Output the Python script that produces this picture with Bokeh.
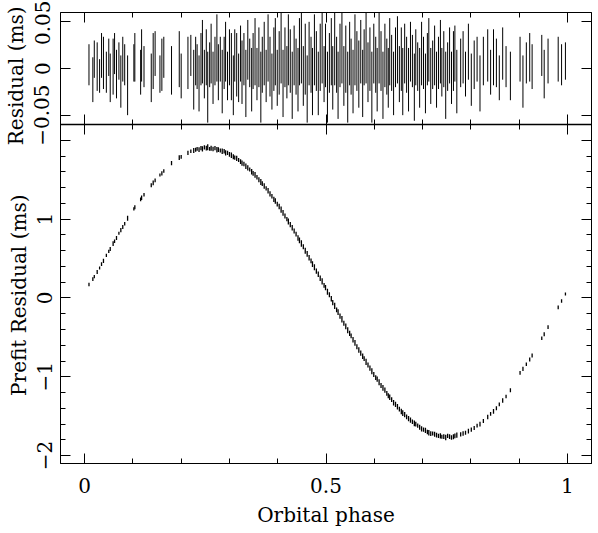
import numpy as np
from bokeh.plotting import figure
from bokeh.models import LinearAxis, SingleIntervalTicker, CustomJSTickFormatter, Range1d, ColumnDataSource, Span
from bokeh.embed import file_html
from bokeh.resources import INLINE

# Orbital phase of each TOA
phase = [
    0.009, 0.017, 0.020, 0.026, 0.031, 0.035, 0.039, 0.045, 0.050, 0.053,
    0.059, 0.062, 0.066, 0.071, 0.075, 0.079, 0.083, 0.089, 0.102, 0.104,
    0.116, 0.118, 0.123, 0.138, 0.142, 0.146, 0.156, 0.160, 0.164, 0.180,
    0.196, 0.200, 0.214, 0.220, 0.226, 0.230, 0.233, 0.237, 0.241, 0.244,
    0.248, 0.252, 0.255, 0.259, 0.262, 0.266, 0.270, 0.274, 0.277, 0.281,
    0.285, 0.289, 0.292, 0.296, 0.300, 0.304, 0.308, 0.311, 0.315, 0.319,
    0.323, 0.326, 0.330, 0.334, 0.338, 0.342, 0.346, 0.349, 0.353, 0.357,
    0.361, 0.365, 0.368, 0.372, 0.376, 0.380, 0.384, 0.388, 0.392, 0.395,
    0.399, 0.403, 0.407, 0.411, 0.415, 0.419, 0.422, 0.426, 0.430, 0.434,
    0.438, 0.442, 0.445, 0.449, 0.453, 0.457, 0.461, 0.465, 0.469, 0.472,
    0.476, 0.480, 0.484, 0.488, 0.492, 0.496, 0.499, 0.503, 0.507, 0.511,
    0.514, 0.518, 0.522, 0.525, 0.529, 0.533, 0.537, 0.541, 0.545, 0.549,
    0.552, 0.556, 0.560, 0.564, 0.568, 0.572, 0.576, 0.579, 0.583, 0.587,
    0.591, 0.595, 0.599, 0.603, 0.606, 0.610, 0.614, 0.618, 0.622, 0.626,
    0.629, 0.632, 0.636, 0.640, 0.644, 0.648, 0.652, 0.656, 0.659, 0.663,
    0.667, 0.671, 0.675, 0.679, 0.683, 0.686, 0.690, 0.694, 0.698, 0.702,
    0.706, 0.710, 0.713, 0.717, 0.721, 0.725, 0.729, 0.733, 0.737, 0.740,
    0.744, 0.748, 0.752, 0.756, 0.760, 0.764, 0.767, 0.771, 0.779, 0.784,
    0.789, 0.795, 0.801, 0.807, 0.813, 0.819, 0.826, 0.835, 0.841, 0.847,
    0.853, 0.859, 0.866, 0.873, 0.882, 0.902, 0.908, 0.915, 0.922, 0.927,
    0.947, 0.952, 0.960, 0.981, 0.988, 0.996,
]

# Prefit residuals (ms)
prefit = [
    0.17, 0.24, 0.27, 0.33, 0.38, 0.43, 0.47, 0.54, 0.59, 0.62,
    0.69, 0.72, 0.76, 0.82, 0.86, 0.90, 0.94, 1.01, 1.13, 1.15,
    1.25, 1.27, 1.31, 1.43, 1.46, 1.49, 1.56, 1.58, 1.61, 1.71,
    1.78, 1.79, 1.84, 1.86, 1.87, 1.88, 1.89, 1.88, 1.90, 1.89,
    1.91, 1.90, 1.91, 1.89, 1.90, 1.89, 1.90, 1.88, 1.88, 1.87,
    1.86, 1.86, 1.84, 1.84, 1.82, 1.81, 1.79, 1.78, 1.77, 1.75,
    1.73, 1.71, 1.70, 1.67, 1.65, 1.63, 1.60, 1.58, 1.56, 1.53,
    1.50, 1.47, 1.45, 1.42, 1.39, 1.36, 1.32, 1.29, 1.25, 1.23,
    1.19, 1.16, 1.12, 1.08, 1.04, 1.00, 0.97, 0.93, 0.89, 0.85,
    0.81, 0.76, 0.73, 0.69, 0.65, 0.60, 0.56, 0.51, 0.47, 0.43,
    0.39, 0.34, 0.30, 0.25, 0.21, 0.16, 0.13, 0.08, 0.04, -0.01,
    -0.06, -0.10, -0.15, -0.18, -0.23, -0.27, -0.32, -0.36, -0.41, -0.45,
    -0.48, -0.53, -0.57, -0.62, -0.66, -0.70, -0.74, -0.77, -0.81, -0.85,
    -0.89, -0.93, -0.97, -1.01, -1.03, -1.07, -1.11, -1.14, -1.17, -1.21,
    -1.24, -1.26, -1.29, -1.33, -1.35, -1.38, -1.41, -1.44, -1.46, -1.48,
    -1.51, -1.53, -1.55, -1.57, -1.59, -1.60, -1.62, -1.64, -1.66, -1.67,
    -1.68, -1.70, -1.71, -1.72, -1.72, -1.73, -1.74, -1.75, -1.75, -1.76,
    -1.76, -1.77, -1.75, -1.76, -1.77, -1.76, -1.75, -1.74, -1.73, -1.72,
    -1.71, -1.69, -1.67, -1.65, -1.62, -1.60, -1.56, -1.51, -1.47, -1.44,
    -1.40, -1.35, -1.30, -1.25, -1.17, -0.95, -0.90, -0.84, -0.78, -0.73,
    -0.51, -0.46, -0.37, -0.12, -0.04, 0.05,
]

# Postfit residuals (ms)
postfit = [
    0.004, -0.012, 0.010, 0.002, -0.008, 0.014, 0.006, -0.004, 0.012, -0.010,
    0.002, 0.016, -0.006, 0.008, -0.014, 0.010, 0.004, -0.018, 0.006, 0.012,
    -0.004, 0.014, 0.002, -0.010, 0.008, 0.016, -0.006, 0.004, 0.012, -0.002,
    0.010, -0.008, 0.006, 0.014, -0.012, 0.008, 0.002, -0.016, 0.010, 0.018,
    -0.006, 0.012, -0.020, 0.004, 0.016, -0.010, 0.008, 0.022, -0.004, 0.010,
    -0.014, 0.006, 0.018, -0.008, 0.012, 0.002, -0.018, 0.014, 0.004, -0.010,
    0.016, -0.004, 0.010, -0.016, 0.020, 0.006, -0.012, 0.008, 0.018, -0.006,
    0.012, -0.020, 0.004, 0.016, -0.008, 0.022, 0.002, -0.014, 0.010, 0.018,
    -0.010, 0.006, 0.024, -0.016, 0.012, -0.004, 0.020, 0.008, -0.018, 0.014,
    0.002, -0.012, 0.018, 0.026, -0.008, 0.010, -0.022, 0.016, 0.004, -0.014,
    0.020, 0.008, -0.016, 0.012, 0.024, -0.006, 0.014, -0.020, 0.006, 0.018,
    -0.010, 0.022, 0.004, -0.018, 0.014, 0.026, -0.008, 0.010, -0.020, 0.016,
    0.002, -0.014, 0.020, 0.008, -0.006, 0.018, -0.016, 0.012, 0.024, -0.004,
    0.010, -0.020, 0.016, 0.004, -0.012, 0.022, 0.008, -0.018, 0.014, 0.002,
    -0.010, 0.018, 0.006, -0.016, 0.012, 0.020, -0.006, 0.010, -0.014, 0.016,
    0.004, -0.012, 0.018, 0.008, -0.020, 0.012, 0.002, -0.010, 0.016, 0.006,
    -0.016, 0.010, 0.020, -0.008, 0.004, 0.014, -0.012, 0.006, 0.018, -0.004,
    0.010, -0.018, 0.002, 0.014, -0.010, 0.008, 0.016, -0.014, 0.006, 0.012,
    -0.006, 0.018, -0.012, 0.004, 0.010, -0.016, 0.008, 0.014, -0.004, 0.012,
    0.006, -0.010, 0.016, 0.002, -0.008, 0.010, -0.014, 0.006, 0.012, 0.002,
    0.014, -0.006, 0.008, 0.010, 0.004, 0.008,
]

# TOA uncertainties (ms)
error = [
    0.022, 0.024, 0.020, 0.026, 0.018, 0.024, 0.028, 0.022, 0.020, 0.026,
    0.030, 0.022, 0.026, 0.020, 0.028, 0.024, 0.022, 0.032, 0.020, 0.026,
    0.024, 0.028, 0.022, 0.026, 0.030, 0.024, 0.020, 0.028, 0.022, 0.026,
    0.030, 0.024, 0.028, 0.022, 0.032, 0.026, 0.024, 0.030, 0.028, 0.034,
    0.026, 0.030, 0.038, 0.024, 0.032, 0.028, 0.026, 0.036, 0.030, 0.024,
    0.034, 0.028, 0.032, 0.026, 0.030, 0.036, 0.032, 0.028, 0.034, 0.026,
    0.030, 0.034, 0.028, 0.036, 0.032, 0.026, 0.034, 0.030, 0.036, 0.028,
    0.032, 0.038, 0.030, 0.034, 0.028, 0.036, 0.032, 0.030, 0.034, 0.036,
    0.030, 0.034, 0.040, 0.036, 0.032, 0.028, 0.038, 0.034, 0.036, 0.032,
    0.030, 0.034, 0.036, 0.042, 0.032, 0.038, 0.036, 0.034, 0.030, 0.036,
    0.038, 0.032, 0.034, 0.036, 0.040, 0.030, 0.034, 0.038, 0.032, 0.036,
    0.034, 0.040, 0.030, 0.036, 0.034, 0.042, 0.032, 0.036, 0.038, 0.034,
    0.030, 0.034, 0.038, 0.032, 0.036, 0.034, 0.036, 0.030, 0.040, 0.032,
    0.034, 0.038, 0.032, 0.030, 0.034, 0.038, 0.032, 0.036, 0.034, 0.030,
    0.032, 0.036, 0.030, 0.034, 0.032, 0.036, 0.030, 0.034, 0.036, 0.032,
    0.030, 0.034, 0.032, 0.028, 0.036, 0.030, 0.026, 0.032, 0.034, 0.028,
    0.032, 0.028, 0.034, 0.030, 0.026, 0.032, 0.030, 0.028, 0.034, 0.026,
    0.030, 0.036, 0.026, 0.030, 0.028, 0.032, 0.030, 0.034, 0.026, 0.028,
    0.024, 0.030, 0.028, 0.026, 0.024, 0.030, 0.026, 0.028, 0.024, 0.030,
    0.026, 0.024, 0.028, 0.022, 0.026, 0.024, 0.028, 0.022, 0.026, 0.024,
    0.022, 0.026, 0.024, 0.024, 0.022, 0.020,
]

x_label = "Orbital phase"
top_label = "Residual (ms)"
bottom_label = "Prefit Residual (ms)"

FONT = "DejaVu Serif"
FS = "20px"
TEXT_H = 21                     # estimated text box height of FS (px)
NBSP = "\u00a0"

# panel geometry (pixels) and axis limits
TOP_PX, BOT_PX = 112, 339
X0, X1 = -0.05, 1.05
Y_LO, Y_HI = -2.1, 2.2          # prefit panel
R_LO, R_HI = -0.06, 0.06        # residual panel
main_end = Y_HI + (Y_HI - Y_LO) * TOP_PX / BOT_PX
res_start = R_LO - (R_HI - R_LO) * BOT_PX / TOP_PX

ph = np.array(phase)
pre = np.array(prefit)
post = np.array(postfit)
err = np.array(error)
src = ColumnDataSource(dict(
    phase=ph,
    post_lo=post - err, post_hi=post + err,
    pre_lo=pre - err, pre_hi=pre + err,
))

def make_fmt(hide_above=None):
    lim = "null" if hide_above is None else str(hide_above)
    return CustomJSTickFormatter(code="""
        const lim = %s;
        if (lim !== null && tick > lim) return '';
        if (Math.abs(tick) < 1e-9) return '0';
        const s = String(+tick.toFixed(3));
        return s.replace('-', '\u2212');
    """ % lim)

def blank_fmt():
    return CustomJSTickFormatter(code="return '';")

def style_axis(ax, labels, hide_above=None):
    ax.axis_line_color = "black"
    ax.axis_line_width = 1
    ax.major_tick_in = 10
    ax.major_tick_out = 0
    ax.minor_tick_in = 5
    ax.minor_tick_out = 0
    ax.major_tick_line_color = "black"
    ax.minor_tick_line_color = "black"
    if labels:
        ax.formatter = make_fmt(hide_above)
        ax.major_label_text_font = FONT
        ax.major_label_text_font_size = FS
        ax.major_label_text_color = "black"
        ax.axis_label_text_font = FONT
        ax.axis_label_text_font_size = FS
        ax.axis_label_text_font_style = "normal"
        ax.axis_label_text_color = "black"
    else:
        ax.formatter = blank_fmt()
        ax.major_label_text_font_size = "1px"
        ax.major_label_standoff = 0
        ax.axis_label = None

def x_ticker():
    return SingleIntervalTicker(interval=0.5, num_minor_ticks=5)

def y_ticker():
    return SingleIntervalTicker(interval=1, num_minor_ticks=5)

def r_ticker():
    return SingleIntervalTicker(interval=0.05, num_minor_ticks=0)

p = figure(width=598, height=533, x_range=Range1d(X0, X1), y_range=Range1d(Y_LO, main_end),
           output_backend="svg", toolbar_location=None,
           min_border_left=59, min_border_right=7, min_border_top=12, min_border_bottom=70)
p.extra_y_ranges = {"res": Range1d(res_start, R_HI)}

# top panel: postfit residuals with error bars
p.segment(x0="phase", y0="post_lo", x1="phase", y1="post_hi", source=src,
          y_range_name="res", line_color="black", line_width=1)
# bottom panel: prefit residuals with error bars
p.segment(x0="phase", y0="pre_lo", x1="phase", y1="pre_hi", source=src,
          line_color="black", line_width=1.3)

# panel divider
p.add_layout(Span(location=Y_HI, dimension="width", line_color="black", line_width=1.5))

# bottom x axis with labels
bx = p.xaxis[0]
bx.ticker = x_ticker()
style_axis(bx, True)
bx.major_label_standoff = 14
bx.axis_label = x_label
bx.axis_label_standoff = 7

# left axis of prefit panel (next to the frame); label centred on its own panel
TICK_SO, LABEL_SO = 8, 4
ly = p.yaxis[0]
ly.ticker = y_ticker()
ly.bounds = (Y_LO, Y_HI)
style_axis(ly, True, hide_above=1.5)
ly.major_label_orientation = "vertical"
ly.major_label_standoff = TICK_SO
ly.axis_label = bottom_label + NBSP * 18
ly.axis_label_standoff = LABEL_SO

# labels of the residual panel: a second left axis pulled back over the first one
lb = LinearAxis(y_range_name="res", ticker=r_ticker(), bounds=(R_LO, R_HI))
style_axis(lb, True)
lb.major_tick_in = 0
lb.minor_tick_in = 0
lb.axis_line_color = None
lb.major_tick_line_color = None
lb.minor_tick_line_color = None
lb.major_label_orientation = "vertical"
lb.major_label_standoff = -(LABEL_SO + 2 * TEXT_H)
lb.axis_label = NBSP * 51 + top_label
lb.axis_label_standoff = LABEL_SO
p.add_layout(lb, "left")

# tick marks of the residual panel on the frame edges
lr = LinearAxis(y_range_name="res", ticker=r_ticker(), fixed_location=X0, bounds=(R_LO, R_HI))
style_axis(lr, False); p.add_layout(lr, "left")
ry = LinearAxis(ticker=y_ticker(), bounds=(Y_LO, Y_HI)); style_axis(ry, False); p.add_layout(ry, "right")
rr = LinearAxis(y_range_name="res", ticker=r_ticker(), fixed_location=X1, bounds=(R_LO, R_HI))
style_axis(rr, False); p.add_layout(rr, "right")

# top x axis and the x ticks on both sides of the divider
tx = LinearAxis(ticker=x_ticker()); style_axis(tx, False); p.add_layout(tx, "above")
d1 = LinearAxis(ticker=x_ticker(), fixed_location=Y_HI); style_axis(d1, False); p.add_layout(d1, "below")
d2 = LinearAxis(ticker=x_ticker(), fixed_location=Y_HI); style_axis(d2, False); p.add_layout(d2, "above")

p.xgrid.visible = False
p.ygrid.visible = False
p.outline_line_color = "black"
p.outline_line_width = 1
p.background_fill_color = "white"
p.border_fill_color = "white"

open("out.html", "w").write(file_html(p, INLINE))
